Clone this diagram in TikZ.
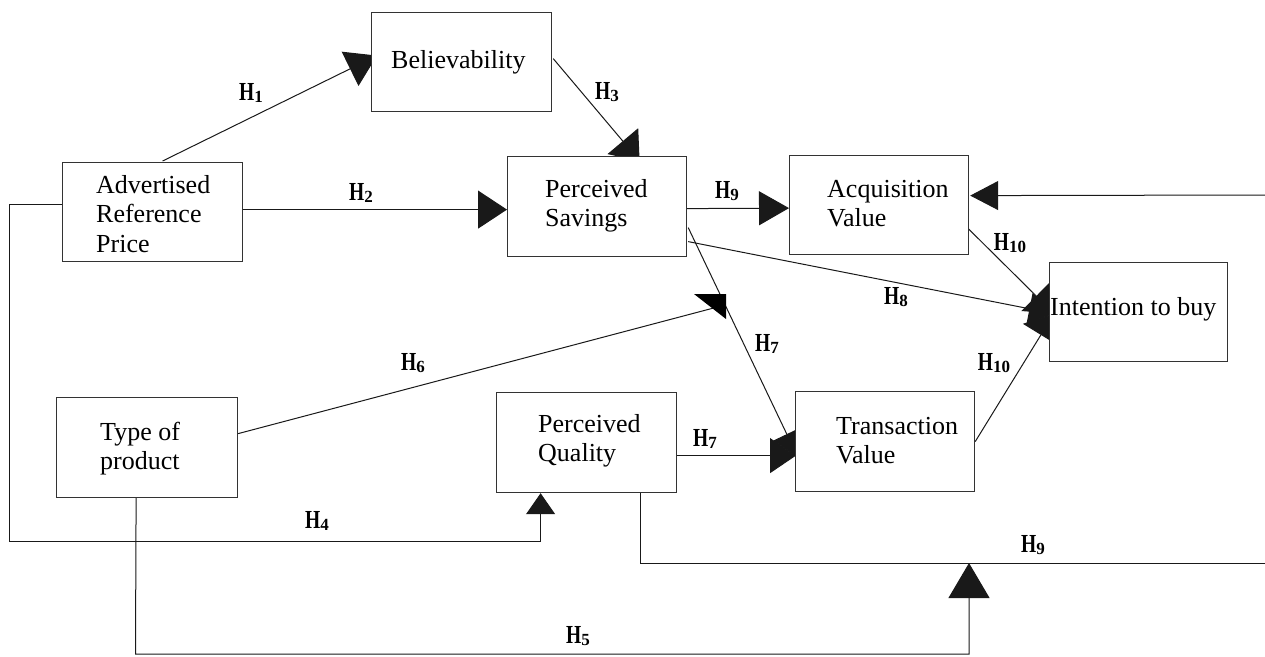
\documentclass[tikz,border=0pt]{standalone}
\usepackage{fontspec}
\setmainfont{Liberation Serif}
\usepackage{graphicx}
\usetikzlibrary{arrows.meta}
\pgfdeclarelayer{bg}
\pgfsetlayers{bg,main}
\newcommand{\hyp}[1]{\scalebox{0.75}[1]{\fontsize{26}{26}\selectfont\bfseries H}\raisebox{-2.5pt}{\fontsize{17}{17}\selectfont\bfseries #1}}
\begin{document}
\begin{tikzpicture}[x=1pt,y=-1pt,
  box/.style={draw=black!80, line width=1.2pt, fill=white, rectangle, anchor=north west, inner sep=0pt},
  txt/.style={anchor=north west, inner sep=0pt, align=left, font=\fontsize{26}{29.7}\selectfont},
  hl/.style={inner sep=0pt},
  conn/.style={draw=black!90, line width=1pt},
  ahead/.style 2 args={-{Triangle[length=#1,width=#2]}},
]
\useasboundingbox (0,0) rectangle (1265,656);

% boxes
\node[box, minimum width=180pt, minimum height=99pt]  (bel) at (371,12) {};
\node[box, minimum width=180pt, minimum height=99pt]  (adv) at (62,162) {};
\node[box, minimum width=179pt, minimum height=100pt] (ps)  at (507,156) {};
\node[box, minimum width=179pt, minimum height=99pt]  (av)  at (789,155) {};
\node[box, minimum width=178pt, minimum height=99pt]  (int) at (1049,262) {};
\node[box, minimum width=181pt, minimum height=100pt] (tp)  at (56,397) {};
\node[box, minimum width=180pt, minimum height=100pt] (pq)  at (496,392) {};
\node[box, minimum width=179pt, minimum height=100pt] (tv)  at (795,391) {};

% box texts
\node[txt] (tbel) at ([shift={(20,35.2)}]bel.north west) {\strut Believability};
\node[txt] (tadv) at ([shift={(34,10.2)}]adv.north west) {\strut Advertised\\Reference\\Price};
\node[txt] (tps)  at ([shift={(38,20.2)}]ps.north west) {\strut Perceived\\Savings};
\node[txt] (tav)  at ([shift={(38,21.2)}]av.north west) {\strut Acquisition\\Value};
\node[txt] (tint) at ([shift={(1,32.2)}]int.north west) {\strut Intention to buy};
\node[txt] (ttp)  at ([shift={(44,22.2)}]tp.north west) {\strut Type of\\product};
\node[txt] (tpq)  at ([shift={(42,19.2)}]pq.north west) {\strut Perceived\\Quality};
\node[txt] (ttv)  at ([shift={(41,22.2)}]tv.north west) {\strut Transaction\\Value};

% hypothesis labels
\node[hl] (h1)  at (251,93)   {\hyp{1}};
\node[hl] (h2)  at (361,193)  {\hyp{2}};
\node[hl] (h3)  at (607,92)   {\hyp{3}};
\node[hl] (h9a) at (727,191)  {\hyp{9}};
\node[hl] (h10a) at (1010,243) {\hyp{10}};
\node[hl] (h8)  at (896,297)  {\hyp{8}};
\node[hl] (h7a) at (767,344)  {\hyp{7}};
\node[hl] (h10b) at (994,363) {\hyp{10}};
\node[hl] (h7b) at (705,439)  {\hyp{7}};
\node[hl] (h9b) at (1033,545) {\hyp{9}};
\node[hl] (h6)  at (413,363)  {\hyp{6}};
\node[hl] (h4)  at (317,521)  {\hyp{4}};
\node[hl] (h5)  at (578,636)  {\hyp{5}};

\coordinate (itip) at ([shift={(5,1.5)}]int.west);
\coordinate (rin) at (1265,195);
\coordinate (mod) at (725,305);
\coordinate (lc) at (9,541);
\coordinate (bl) at (135.5,654);
\coordinate (h9j) at (969,563);
\coordinate (rout) at (1265,563);

\begin{pgfonlayer}{bg}
% H1
\draw[conn, ahead={30pt}{38pt}] ([shift={(10,-1)}]adv.north) -- ([shift={(6,-6.5)}]bel.west);
% H2
\draw[conn, ahead={29pt}{38pt}] ([shift={(0,-2.5)}]adv.east) -- ([shift={(0,3)}]ps.west);
% H3
\draw[conn, ahead={26pt}{40pt}] ([shift={(1,-3.5)}]bel.east) -- ([shift={(42.5,5)}]ps.north);
% H9 top
\draw[conn, ahead={30pt}{34pt}] ([shift={(0,2)}]ps.east) -- ([shift={(0,3)}]av.west);
% incoming from right
\draw[conn, ahead={28pt}{29pt}] (rin) -- ([shift={(1,-9.5)}]av.east);
% H8
\draw[conn, ahead={25pt}{32pt}] ([shift={(1,35)}]ps.east) -- (itip);
% H10 from acquisition value
\draw[conn, ahead={25pt}{42pt}] ([shift={(-1,23.5)}]av.east) -- (itip);
% H10 from transaction value
\draw[conn, ahead={25pt}{42pt}] (tv.east) -- (itip);
% H7 diagonal
\draw[conn, ahead={26pt}{30pt}] ([shift={(1,21)}]ps.east) -- ([shift={(3,16)}]tv.west);
% H7 horizontal
\draw[conn, ahead={26pt}{35pt}] ([shift={(0,13)}]pq.east) -- ([shift={(1,14)}]tv.west);
% H6 (moderator)
\draw[conn] ([shift={(0,-14)}]tp.east) -- (mod);
\fill ([shift={(-31,-11)}]mod) -- ([shift={(1,-11)}]mod) -- ([shift={(1,14)}]mod) -- cycle;
% H4 loop
\draw[conn, ahead={21pt}{29pt}] ([shift={(0,-7.5)}]adv.west) -| (lc) -| ([shift={(-46,0)}]pq.south);
% H5 loop
\draw[conn, ahead={35pt}{41pt}] ([shift={(-11,0)}]tp.south) -- (bl) -| (h9j);
% H9 lower
\draw[conn] ([shift={(54,0)}]pq.south) |- (rout);
\end{pgfonlayer}
\end{tikzpicture}
\end{document}
